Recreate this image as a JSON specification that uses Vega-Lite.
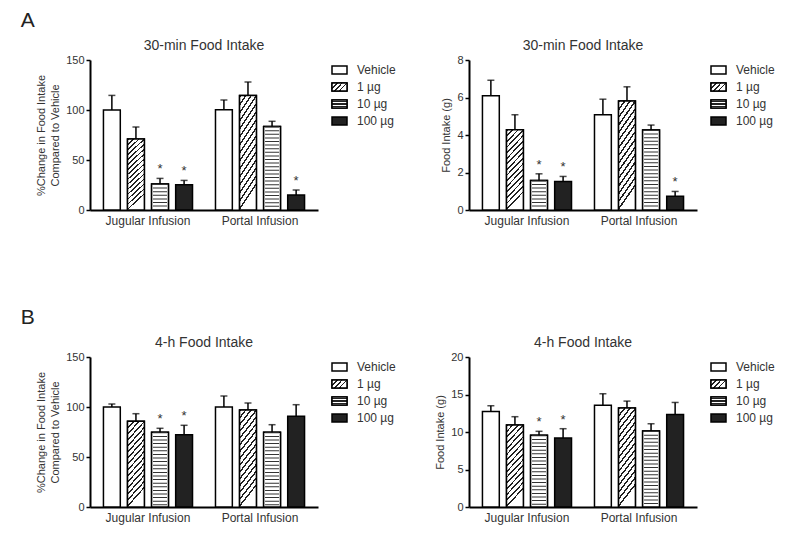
{
  "$schema": "https://vega.github.io/schema/vega-lite/v6.json",
  "padding": {"left": 20, "top": 10, "right": 5, "bottom": 5},
  "datasets": {
    "doses": [{"dose": "Vehicle"}, {"dose": "1 µg"}, {"dose": "10 µg"}, {"dose": "100 µg"}],
    "pct30": [
      {"route": "Jugular Infusion", "dose": "Vehicle", "mean": 100, "hi": 114.6, "sig": ""},
      {"route": "Jugular Infusion", "dose": "1 µg", "mean": 71, "hi": 83, "sig": ""},
      {"route": "Jugular Infusion", "dose": "10 µg", "mean": 26, "hi": 31.6, "sig": "*"},
      {"route": "Jugular Infusion", "dose": "100 µg", "mean": 25.2, "hi": 29.6, "sig": "*"},
      {"route": "Portal Infusion", "dose": "Vehicle", "mean": 100.3, "hi": 110, "sig": ""},
      {"route": "Portal Infusion", "dose": "1 µg", "mean": 114.6, "hi": 128, "sig": ""},
      {"route": "Portal Infusion", "dose": "10 µg", "mean": 83.4, "hi": 88.7, "sig": ""},
      {"route": "Portal Infusion", "dose": "100 µg", "mean": 15, "hi": 20, "sig": "*"}
    ],
    "g30": [
      {"route": "Jugular Infusion", "dose": "Vehicle", "mean": 6.09, "hi": 6.92, "sig": ""},
      {"route": "Jugular Infusion", "dose": "1 µg", "mean": 4.28, "hi": 5.08, "sig": ""},
      {"route": "Jugular Infusion", "dose": "10 µg", "mean": 1.58, "hi": 1.93, "sig": "*"},
      {"route": "Jugular Infusion", "dose": "100 µg", "mean": 1.52, "hi": 1.79, "sig": "*"},
      {"route": "Portal Infusion", "dose": "Vehicle", "mean": 5.08, "hi": 5.91, "sig": ""},
      {"route": "Portal Infusion", "dose": "1 µg", "mean": 5.82, "hi": 6.57, "sig": ""},
      {"route": "Portal Infusion", "dose": "10 µg", "mean": 4.27, "hi": 4.53, "sig": ""},
      {"route": "Portal Infusion", "dose": "100 µg", "mean": 0.74, "hi": 0.99, "sig": "*"}
    ],
    "pct4": [
      {"route": "Jugular Infusion", "dose": "Vehicle", "mean": 100, "hi": 103, "sig": ""},
      {"route": "Jugular Infusion", "dose": "1 µg", "mean": 85.7, "hi": 93.3, "sig": ""},
      {"route": "Jugular Infusion", "dose": "10 µg", "mean": 74.7, "hi": 78.7, "sig": "*"},
      {"route": "Jugular Infusion", "dose": "100 µg", "mean": 72.3, "hi": 81.7, "sig": "*"},
      {"route": "Portal Infusion", "dose": "Vehicle", "mean": 100, "hi": 111, "sig": ""},
      {"route": "Portal Infusion", "dose": "1 µg", "mean": 97, "hi": 104, "sig": ""},
      {"route": "Portal Infusion", "dose": "10 µg", "mean": 74.7, "hi": 82.3, "sig": ""},
      {"route": "Portal Infusion", "dose": "100 µg", "mean": 90.7, "hi": 102.3, "sig": ""}
    ],
    "g4": [
      {"route": "Jugular Infusion", "dose": "Vehicle", "mean": 12.74, "hi": 13.5, "sig": ""},
      {"route": "Jugular Infusion", "dose": "1 µg", "mean": 10.93, "hi": 12.04, "sig": ""},
      {"route": "Jugular Infusion", "dose": "10 µg", "mean": 9.56, "hi": 10.09, "sig": "*"},
      {"route": "Jugular Infusion", "dose": "100 µg", "mean": 9.2, "hi": 10.44, "sig": "*"},
      {"route": "Portal Infusion", "dose": "Vehicle", "mean": 13.58, "hi": 15.1, "sig": ""},
      {"route": "Portal Infusion", "dose": "1 µg", "mean": 13.19, "hi": 14.12, "sig": ""},
      {"route": "Portal Infusion", "dose": "10 µg", "mean": 10.13, "hi": 11.1, "sig": ""},
      {"route": "Portal Infusion", "dose": "100 µg", "mean": 12.35, "hi": 13.94, "sig": ""}
    ]
  },
  "vconcat": [
    {
      "title": {"text": "A", "anchor": "start", "frame": "bounds", "fontSize": 21, "color": "#222", "dx": -15, "offset": 8},
      "bounds": "flush",
      "spacing": 14,
      "hconcat": [
        {
          "title": {"text": "30-min Food Intake", "frame": "group", "anchor": "middle"},
          "width": 228, "height": 150,
          "data": {"name": "pct30"},
          "encoding": {
            "x": {"field": "route", "type": "nominal", "sort": ["Jugular Infusion", "Portal Infusion"], "scale": {"paddingInner": 0.205, "paddingOuter": 0.12}, "axis": {"title": null}},
            "xOffset": {"field": "dose", "type": "nominal", "sort": ["Vehicle", "1 µg", "10 µg", "100 µg"], "scale": {"domain": ["Vehicle", "1 µg", "10 µg", "100 µg"], "paddingInner": 0.3, "paddingOuter": 0}},
            "y": {"field": "mean", "type": "quantitative", "scale": {"domain": [0, 150], "nice": false}, "axis": {"values": [0, 50, 100, 150], "title": ["%Change in Food Intake", "Compared to Vehicle"]}}
          },
          "layer": [
            {"mark": {"type": "bar", "stroke": "black", "strokeWidth": 1.5},
             "encoding": {"fill": {"field": "dose", "type": "nominal", "scale": {"domain": ["Vehicle", "1 µg", "10 µg", "100 µg"], "range": ["white", "white", "white", "#222"]}, "legend": null}}},
            {"transform": [{"filter": "datum.dose === '1 µg'"}],
             "mark": {"type": "bar", "stroke": "black", "strokeWidth": 1.5,
               "fill": {"gradient": "linear", "x1": 0, "y1": 0, "x2": 0.22, "y2": 1, "stops": [{"offset": 0, "color": "#222"}, {"offset": 0.022, "color": "#222"}, {"offset": 0.022, "color": "white"}, {"offset": 0.0667, "color": "white"}, {"offset": 0.0667, "color": "#222"}, {"offset": 0.0887, "color": "#222"}, {"offset": 0.0887, "color": "white"}, {"offset": 0.1333, "color": "white"}, {"offset": 0.1333, "color": "#222"}, {"offset": 0.1553, "color": "#222"}, {"offset": 0.1553, "color": "white"}, {"offset": 0.2, "color": "white"}, {"offset": 0.2, "color": "#222"}, {"offset": 0.222, "color": "#222"}, {"offset": 0.222, "color": "white"}, {"offset": 0.2667, "color": "white"}, {"offset": 0.2667, "color": "#222"}, {"offset": 0.2887, "color": "#222"}, {"offset": 0.2887, "color": "white"}, {"offset": 0.3333, "color": "white"}, {"offset": 0.3333, "color": "#222"}, {"offset": 0.3553, "color": "#222"}, {"offset": 0.3553, "color": "white"}, {"offset": 0.4, "color": "white"}, {"offset": 0.4, "color": "#222"}, {"offset": 0.422, "color": "#222"}, {"offset": 0.422, "color": "white"}, {"offset": 0.4667, "color": "white"}, {"offset": 0.4667, "color": "#222"}, {"offset": 0.4887, "color": "#222"}, {"offset": 0.4887, "color": "white"}, {"offset": 0.5333, "color": "white"}, {"offset": 0.5333, "color": "#222"}, {"offset": 0.5553, "color": "#222"}, {"offset": 0.5553, "color": "white"}, {"offset": 0.6, "color": "white"}, {"offset": 0.6, "color": "#222"}, {"offset": 0.622, "color": "#222"}, {"offset": 0.622, "color": "white"}, {"offset": 0.6667, "color": "white"}, {"offset": 0.6667, "color": "#222"}, {"offset": 0.6887, "color": "#222"}, {"offset": 0.6887, "color": "white"}, {"offset": 0.7333, "color": "white"}, {"offset": 0.7333, "color": "#222"}, {"offset": 0.7553, "color": "#222"}, {"offset": 0.7553, "color": "white"}, {"offset": 0.8, "color": "white"}, {"offset": 0.8, "color": "#222"}, {"offset": 0.822, "color": "#222"}, {"offset": 0.822, "color": "white"}, {"offset": 0.8667, "color": "white"}, {"offset": 0.8667, "color": "#222"}, {"offset": 0.8887, "color": "#222"}, {"offset": 0.8887, "color": "white"}, {"offset": 0.9333, "color": "white"}, {"offset": 0.9333, "color": "#222"}, {"offset": 0.9553, "color": "#222"}, {"offset": 0.9553, "color": "white"}, {"offset": 1, "color": "white"}]}},
             "encoding": {}},
            {"transform": [{"filter": "datum.dose === '10 µg'"}],
             "mark": {"type": "bar", "stroke": "black", "strokeWidth": 1.5, "fill": "white"},
             "encoding": {}},
            {"transform": [{"filter": "datum.dose === '10 µg'"}],
             "mark": {"type": "rule", "color": "#333", "strokeWidth": 14, "strokeDash": [1, 2.6]},
             "encoding": {"y2": {"datum": 0}}},
            {"mark": {"type": "rule", "color": "black", "strokeWidth": 1.5},
             "encoding": {"y2": {"field": "hi"}}},
            {"mark": {"type": "tick", "orient": "horizontal", "color": "black", "size": 7, "thickness": 1.5},
             "encoding": {"y": {"field": "hi", "type": "quantitative", "axis": {"values": [0, 50, 100, 150], "title": ["%Change in Food Intake", "Compared to Vehicle"]}}}},
            {"transform": [{"filter": "datum.sig === '*'"}],
             "mark": {"type": "text", "fontSize": 13, "fill": "#333", "color": "#333", "baseline": "alphabetic", "dy": -5},
             "encoding": {"y": {"field": "hi", "type": "quantitative", "axis": {"values": [0, 50, 100, 150], "title": ["%Change in Food Intake", "Compared to Vehicle"]}}, "text": {"field": "sig"}}}
          ]
        },
        {
          "width": 123, "height": 71,
          "data": {"name": "doses"},
          "encoding": {
            "y": {"field": "dose", "type": "nominal", "sort": ["Vehicle", "1 µg", "10 µg", "100 µg"], "scale": {"paddingInner": 0.53, "paddingOuter": 0.353}, "axis": null},
            "x": {"datum": 0, "type": "quantitative", "scale": {"domain": [0, 123], "nice": false, "zero": false}, "axis": null}
          },
          "layer": [
            {"mark": {"type": "bar", "stroke": "black", "strokeWidth": 1.5},
             "encoding": {"x2": {"datum": 15}, "fill": {"field": "dose", "type": "nominal", "scale": {"domain": ["Vehicle", "1 µg", "10 µg", "100 µg"], "range": ["white", "white", "white", "#222"]}, "legend": null}}},
            {"transform": [{"filter": "datum.dose === '1 µg'"}],
             "mark": {"type": "bar", "stroke": "black", "strokeWidth": 1.5, "fill": {"gradient": "linear", "x1": 0, "y1": 0, "x2": 1, "y2": 0.5, "stops": [{"offset": 0, "color": "#222"}, {"offset": 0.08, "color": "#222"}, {"offset": 0.08, "color": "white"}, {"offset": 0.25, "color": "white"}, {"offset": 0.25, "color": "#222"}, {"offset": 0.33, "color": "#222"}, {"offset": 0.33, "color": "white"}, {"offset": 0.5, "color": "white"}, {"offset": 0.5, "color": "#222"}, {"offset": 0.58, "color": "#222"}, {"offset": 0.58, "color": "white"}, {"offset": 0.75, "color": "white"}, {"offset": 0.75, "color": "#222"}, {"offset": 0.83, "color": "#222"}, {"offset": 0.83, "color": "white"}, {"offset": 1, "color": "white"}]}},
             "encoding": {"x2": {"datum": 15}}},
            {"transform": [{"filter": "datum.dose === '10 µg'"}],
             "mark": {"type": "bar", "stroke": "black", "strokeWidth": 1.5, "fill": {"gradient": "linear", "x1": 0, "y1": 0, "x2": 0, "y2": 1, "stops": [{"offset": 0, "color": "white"}, {"offset": 0.16, "color": "white"}, {"offset": 0.16, "color": "#222"}, {"offset": 0.3, "color": "#222"}, {"offset": 0.3, "color": "white"}, {"offset": 0.43, "color": "white"}, {"offset": 0.43, "color": "#222"}, {"offset": 0.57, "color": "#222"}, {"offset": 0.57, "color": "white"}, {"offset": 0.7, "color": "white"}, {"offset": 0.7, "color": "#222"}, {"offset": 0.84, "color": "#222"}, {"offset": 0.84, "color": "white"}, {"offset": 1, "color": "white"}]}},
             "encoding": {"x2": {"datum": 15}}},
            {"mark": {"type": "text", "align": "left", "baseline": "middle", "fontSize": 12, "color": "#333", "dx": 10},
             "encoding": {"x": {"datum": 15, "type": "quantitative"}, "text": {"field": "dose"}}}
          ]
        },
        {
          "title": {"text": "30-min Food Intake", "frame": "group", "anchor": "middle"},
          "width": 228, "height": 150,
          "data": {"name": "g30"},
          "encoding": {
            "x": {"field": "route", "type": "nominal", "sort": ["Jugular Infusion", "Portal Infusion"], "scale": {"paddingInner": 0.205, "paddingOuter": 0.12}, "axis": {"title": null}},
            "xOffset": {"field": "dose", "type": "nominal", "sort": ["Vehicle", "1 µg", "10 µg", "100 µg"], "scale": {"domain": ["Vehicle", "1 µg", "10 µg", "100 µg"], "paddingInner": 0.3, "paddingOuter": 0}},
            "y": {"field": "mean", "type": "quantitative", "scale": {"domain": [0, 8], "nice": false}, "axis": {"values": [0, 2, 4, 6, 8], "title": "Food Intake (g)"}}
          },
          "layer": [
            {"mark": {"type": "bar", "stroke": "black", "strokeWidth": 1.5},
             "encoding": {"fill": {"field": "dose", "type": "nominal", "scale": {"domain": ["Vehicle", "1 µg", "10 µg", "100 µg"], "range": ["white", "white", "white", "#222"]}, "legend": null}}},
            {"transform": [{"filter": "datum.dose === '1 µg'"}],
             "mark": {"type": "bar", "stroke": "black", "strokeWidth": 1.5,
               "fill": {"gradient": "linear", "x1": 0, "y1": 0, "x2": 0.22, "y2": 1, "stops": [{"offset": 0, "color": "#222"}, {"offset": 0.022, "color": "#222"}, {"offset": 0.022, "color": "white"}, {"offset": 0.0667, "color": "white"}, {"offset": 0.0667, "color": "#222"}, {"offset": 0.0887, "color": "#222"}, {"offset": 0.0887, "color": "white"}, {"offset": 0.1333, "color": "white"}, {"offset": 0.1333, "color": "#222"}, {"offset": 0.1553, "color": "#222"}, {"offset": 0.1553, "color": "white"}, {"offset": 0.2, "color": "white"}, {"offset": 0.2, "color": "#222"}, {"offset": 0.222, "color": "#222"}, {"offset": 0.222, "color": "white"}, {"offset": 0.2667, "color": "white"}, {"offset": 0.2667, "color": "#222"}, {"offset": 0.2887, "color": "#222"}, {"offset": 0.2887, "color": "white"}, {"offset": 0.3333, "color": "white"}, {"offset": 0.3333, "color": "#222"}, {"offset": 0.3553, "color": "#222"}, {"offset": 0.3553, "color": "white"}, {"offset": 0.4, "color": "white"}, {"offset": 0.4, "color": "#222"}, {"offset": 0.422, "color": "#222"}, {"offset": 0.422, "color": "white"}, {"offset": 0.4667, "color": "white"}, {"offset": 0.4667, "color": "#222"}, {"offset": 0.4887, "color": "#222"}, {"offset": 0.4887, "color": "white"}, {"offset": 0.5333, "color": "white"}, {"offset": 0.5333, "color": "#222"}, {"offset": 0.5553, "color": "#222"}, {"offset": 0.5553, "color": "white"}, {"offset": 0.6, "color": "white"}, {"offset": 0.6, "color": "#222"}, {"offset": 0.622, "color": "#222"}, {"offset": 0.622, "color": "white"}, {"offset": 0.6667, "color": "white"}, {"offset": 0.6667, "color": "#222"}, {"offset": 0.6887, "color": "#222"}, {"offset": 0.6887, "color": "white"}, {"offset": 0.7333, "color": "white"}, {"offset": 0.7333, "color": "#222"}, {"offset": 0.7553, "color": "#222"}, {"offset": 0.7553, "color": "white"}, {"offset": 0.8, "color": "white"}, {"offset": 0.8, "color": "#222"}, {"offset": 0.822, "color": "#222"}, {"offset": 0.822, "color": "white"}, {"offset": 0.8667, "color": "white"}, {"offset": 0.8667, "color": "#222"}, {"offset": 0.8887, "color": "#222"}, {"offset": 0.8887, "color": "white"}, {"offset": 0.9333, "color": "white"}, {"offset": 0.9333, "color": "#222"}, {"offset": 0.9553, "color": "#222"}, {"offset": 0.9553, "color": "white"}, {"offset": 1, "color": "white"}]}},
             "encoding": {}},
            {"transform": [{"filter": "datum.dose === '10 µg'"}],
             "mark": {"type": "bar", "stroke": "black", "strokeWidth": 1.5, "fill": "white"},
             "encoding": {}},
            {"transform": [{"filter": "datum.dose === '10 µg'"}],
             "mark": {"type": "rule", "color": "#333", "strokeWidth": 14, "strokeDash": [1, 2.6]},
             "encoding": {"y2": {"datum": 0}}},
            {"mark": {"type": "rule", "color": "black", "strokeWidth": 1.5},
             "encoding": {"y2": {"field": "hi"}}},
            {"mark": {"type": "tick", "orient": "horizontal", "color": "black", "size": 7, "thickness": 1.5},
             "encoding": {"y": {"field": "hi", "type": "quantitative", "axis": {"values": [0, 2, 4, 6, 8], "title": "Food Intake (g)"}}}},
            {"transform": [{"filter": "datum.sig === '*'"}],
             "mark": {"type": "text", "fontSize": 13, "fill": "#333", "color": "#333", "baseline": "alphabetic", "dy": -5},
             "encoding": {"y": {"field": "hi", "type": "quantitative", "axis": {"values": [0, 2, 4, 6, 8], "title": "Food Intake (g)"}}, "text": {"field": "sig"}}}
          ]
        },
        {
          "width": 75, "height": 71,
          "data": {"name": "doses"},
          "encoding": {
            "y": {"field": "dose", "type": "nominal", "sort": ["Vehicle", "1 µg", "10 µg", "100 µg"], "scale": {"paddingInner": 0.53, "paddingOuter": 0.353}, "axis": null},
            "x": {"datum": 0, "type": "quantitative", "scale": {"domain": [0, 75], "nice": false, "zero": false}, "axis": null}
          },
          "layer": [
            {"mark": {"type": "bar", "stroke": "black", "strokeWidth": 1.5},
             "encoding": {"x2": {"datum": 15}, "fill": {"field": "dose", "type": "nominal", "scale": {"domain": ["Vehicle", "1 µg", "10 µg", "100 µg"], "range": ["white", "white", "white", "#222"]}, "legend": null}}},
            {"transform": [{"filter": "datum.dose === '1 µg'"}],
             "mark": {"type": "bar", "stroke": "black", "strokeWidth": 1.5, "fill": {"gradient": "linear", "x1": 0, "y1": 0, "x2": 1, "y2": 0.5, "stops": [{"offset": 0, "color": "#222"}, {"offset": 0.08, "color": "#222"}, {"offset": 0.08, "color": "white"}, {"offset": 0.25, "color": "white"}, {"offset": 0.25, "color": "#222"}, {"offset": 0.33, "color": "#222"}, {"offset": 0.33, "color": "white"}, {"offset": 0.5, "color": "white"}, {"offset": 0.5, "color": "#222"}, {"offset": 0.58, "color": "#222"}, {"offset": 0.58, "color": "white"}, {"offset": 0.75, "color": "white"}, {"offset": 0.75, "color": "#222"}, {"offset": 0.83, "color": "#222"}, {"offset": 0.83, "color": "white"}, {"offset": 1, "color": "white"}]}},
             "encoding": {"x2": {"datum": 15}}},
            {"transform": [{"filter": "datum.dose === '10 µg'"}],
             "mark": {"type": "bar", "stroke": "black", "strokeWidth": 1.5, "fill": {"gradient": "linear", "x1": 0, "y1": 0, "x2": 0, "y2": 1, "stops": [{"offset": 0, "color": "white"}, {"offset": 0.16, "color": "white"}, {"offset": 0.16, "color": "#222"}, {"offset": 0.3, "color": "#222"}, {"offset": 0.3, "color": "white"}, {"offset": 0.43, "color": "white"}, {"offset": 0.43, "color": "#222"}, {"offset": 0.57, "color": "#222"}, {"offset": 0.57, "color": "white"}, {"offset": 0.7, "color": "white"}, {"offset": 0.7, "color": "#222"}, {"offset": 0.84, "color": "#222"}, {"offset": 0.84, "color": "white"}, {"offset": 1, "color": "white"}]}},
             "encoding": {"x2": {"datum": 15}}},
            {"mark": {"type": "text", "align": "left", "baseline": "middle", "fontSize": 12, "color": "#333", "dx": 10},
             "encoding": {"x": {"datum": 15, "type": "quantitative"}, "text": {"field": "dose"}}}
          ]
        }
      ]
    },
    {
      "title": {"text": "B", "anchor": "start", "frame": "bounds", "fontSize": 21, "color": "#222", "dx": -15, "offset": 8},
      "bounds": "flush",
      "spacing": 14,
      "hconcat": [
        {
          "title": {"text": "4-h Food Intake", "frame": "group", "anchor": "middle"},
          "width": 228, "height": 150,
          "data": {"name": "pct4"},
          "encoding": {
            "x": {"field": "route", "type": "nominal", "sort": ["Jugular Infusion", "Portal Infusion"], "scale": {"paddingInner": 0.205, "paddingOuter": 0.12}, "axis": {"title": null}},
            "xOffset": {"field": "dose", "type": "nominal", "sort": ["Vehicle", "1 µg", "10 µg", "100 µg"], "scale": {"domain": ["Vehicle", "1 µg", "10 µg", "100 µg"], "paddingInner": 0.3, "paddingOuter": 0}},
            "y": {"field": "mean", "type": "quantitative", "scale": {"domain": [0, 150], "nice": false}, "axis": {"values": [0, 50, 100, 150], "title": ["%Change in Food Intake", "Compared to Vehicle"]}}
          },
          "layer": [
            {"mark": {"type": "bar", "stroke": "black", "strokeWidth": 1.5},
             "encoding": {"fill": {"field": "dose", "type": "nominal", "scale": {"domain": ["Vehicle", "1 µg", "10 µg", "100 µg"], "range": ["white", "white", "white", "#222"]}, "legend": null}}},
            {"transform": [{"filter": "datum.dose === '1 µg'"}],
             "mark": {"type": "bar", "stroke": "black", "strokeWidth": 1.5,
               "fill": {"gradient": "linear", "x1": 0, "y1": 0, "x2": 0.22, "y2": 1, "stops": [{"offset": 0, "color": "#222"}, {"offset": 0.022, "color": "#222"}, {"offset": 0.022, "color": "white"}, {"offset": 0.0667, "color": "white"}, {"offset": 0.0667, "color": "#222"}, {"offset": 0.0887, "color": "#222"}, {"offset": 0.0887, "color": "white"}, {"offset": 0.1333, "color": "white"}, {"offset": 0.1333, "color": "#222"}, {"offset": 0.1553, "color": "#222"}, {"offset": 0.1553, "color": "white"}, {"offset": 0.2, "color": "white"}, {"offset": 0.2, "color": "#222"}, {"offset": 0.222, "color": "#222"}, {"offset": 0.222, "color": "white"}, {"offset": 0.2667, "color": "white"}, {"offset": 0.2667, "color": "#222"}, {"offset": 0.2887, "color": "#222"}, {"offset": 0.2887, "color": "white"}, {"offset": 0.3333, "color": "white"}, {"offset": 0.3333, "color": "#222"}, {"offset": 0.3553, "color": "#222"}, {"offset": 0.3553, "color": "white"}, {"offset": 0.4, "color": "white"}, {"offset": 0.4, "color": "#222"}, {"offset": 0.422, "color": "#222"}, {"offset": 0.422, "color": "white"}, {"offset": 0.4667, "color": "white"}, {"offset": 0.4667, "color": "#222"}, {"offset": 0.4887, "color": "#222"}, {"offset": 0.4887, "color": "white"}, {"offset": 0.5333, "color": "white"}, {"offset": 0.5333, "color": "#222"}, {"offset": 0.5553, "color": "#222"}, {"offset": 0.5553, "color": "white"}, {"offset": 0.6, "color": "white"}, {"offset": 0.6, "color": "#222"}, {"offset": 0.622, "color": "#222"}, {"offset": 0.622, "color": "white"}, {"offset": 0.6667, "color": "white"}, {"offset": 0.6667, "color": "#222"}, {"offset": 0.6887, "color": "#222"}, {"offset": 0.6887, "color": "white"}, {"offset": 0.7333, "color": "white"}, {"offset": 0.7333, "color": "#222"}, {"offset": 0.7553, "color": "#222"}, {"offset": 0.7553, "color": "white"}, {"offset": 0.8, "color": "white"}, {"offset": 0.8, "color": "#222"}, {"offset": 0.822, "color": "#222"}, {"offset": 0.822, "color": "white"}, {"offset": 0.8667, "color": "white"}, {"offset": 0.8667, "color": "#222"}, {"offset": 0.8887, "color": "#222"}, {"offset": 0.8887, "color": "white"}, {"offset": 0.9333, "color": "white"}, {"offset": 0.9333, "color": "#222"}, {"offset": 0.9553, "color": "#222"}, {"offset": 0.9553, "color": "white"}, {"offset": 1, "color": "white"}]}},
             "encoding": {}},
            {"transform": [{"filter": "datum.dose === '10 µg'"}],
             "mark": {"type": "bar", "stroke": "black", "strokeWidth": 1.5, "fill": "white"},
             "encoding": {}},
            {"transform": [{"filter": "datum.dose === '10 µg'"}],
             "mark": {"type": "rule", "color": "#333", "strokeWidth": 14, "strokeDash": [1, 2.6]},
             "encoding": {"y2": {"datum": 0}}},
            {"mark": {"type": "rule", "color": "black", "strokeWidth": 1.5},
             "encoding": {"y2": {"field": "hi"}}},
            {"mark": {"type": "tick", "orient": "horizontal", "color": "black", "size": 7, "thickness": 1.5},
             "encoding": {"y": {"field": "hi", "type": "quantitative", "axis": {"values": [0, 50, 100, 150], "title": ["%Change in Food Intake", "Compared to Vehicle"]}}}},
            {"transform": [{"filter": "datum.sig === '*'"}],
             "mark": {"type": "text", "fontSize": 13, "fill": "#333", "color": "#333", "baseline": "alphabetic", "dy": -5},
             "encoding": {"y": {"field": "hi", "type": "quantitative", "axis": {"values": [0, 50, 100, 150], "title": ["%Change in Food Intake", "Compared to Vehicle"]}}, "text": {"field": "sig"}}}
          ]
        },
        {
          "width": 123, "height": 71,
          "data": {"name": "doses"},
          "encoding": {
            "y": {"field": "dose", "type": "nominal", "sort": ["Vehicle", "1 µg", "10 µg", "100 µg"], "scale": {"paddingInner": 0.53, "paddingOuter": 0.353}, "axis": null},
            "x": {"datum": 0, "type": "quantitative", "scale": {"domain": [0, 123], "nice": false, "zero": false}, "axis": null}
          },
          "layer": [
            {"mark": {"type": "bar", "stroke": "black", "strokeWidth": 1.5},
             "encoding": {"x2": {"datum": 15}, "fill": {"field": "dose", "type": "nominal", "scale": {"domain": ["Vehicle", "1 µg", "10 µg", "100 µg"], "range": ["white", "white", "white", "#222"]}, "legend": null}}},
            {"transform": [{"filter": "datum.dose === '1 µg'"}],
             "mark": {"type": "bar", "stroke": "black", "strokeWidth": 1.5, "fill": {"gradient": "linear", "x1": 0, "y1": 0, "x2": 1, "y2": 0.5, "stops": [{"offset": 0, "color": "#222"}, {"offset": 0.08, "color": "#222"}, {"offset": 0.08, "color": "white"}, {"offset": 0.25, "color": "white"}, {"offset": 0.25, "color": "#222"}, {"offset": 0.33, "color": "#222"}, {"offset": 0.33, "color": "white"}, {"offset": 0.5, "color": "white"}, {"offset": 0.5, "color": "#222"}, {"offset": 0.58, "color": "#222"}, {"offset": 0.58, "color": "white"}, {"offset": 0.75, "color": "white"}, {"offset": 0.75, "color": "#222"}, {"offset": 0.83, "color": "#222"}, {"offset": 0.83, "color": "white"}, {"offset": 1, "color": "white"}]}},
             "encoding": {"x2": {"datum": 15}}},
            {"transform": [{"filter": "datum.dose === '10 µg'"}],
             "mark": {"type": "bar", "stroke": "black", "strokeWidth": 1.5, "fill": {"gradient": "linear", "x1": 0, "y1": 0, "x2": 0, "y2": 1, "stops": [{"offset": 0, "color": "white"}, {"offset": 0.16, "color": "white"}, {"offset": 0.16, "color": "#222"}, {"offset": 0.3, "color": "#222"}, {"offset": 0.3, "color": "white"}, {"offset": 0.43, "color": "white"}, {"offset": 0.43, "color": "#222"}, {"offset": 0.57, "color": "#222"}, {"offset": 0.57, "color": "white"}, {"offset": 0.7, "color": "white"}, {"offset": 0.7, "color": "#222"}, {"offset": 0.84, "color": "#222"}, {"offset": 0.84, "color": "white"}, {"offset": 1, "color": "white"}]}},
             "encoding": {"x2": {"datum": 15}}},
            {"mark": {"type": "text", "align": "left", "baseline": "middle", "fontSize": 12, "color": "#333", "dx": 10},
             "encoding": {"x": {"datum": 15, "type": "quantitative"}, "text": {"field": "dose"}}}
          ]
        },
        {
          "title": {"text": "4-h Food Intake", "frame": "group", "anchor": "middle"},
          "width": 228, "height": 150,
          "data": {"name": "g4"},
          "encoding": {
            "x": {"field": "route", "type": "nominal", "sort": ["Jugular Infusion", "Portal Infusion"], "scale": {"paddingInner": 0.205, "paddingOuter": 0.12}, "axis": {"title": null}},
            "xOffset": {"field": "dose", "type": "nominal", "sort": ["Vehicle", "1 µg", "10 µg", "100 µg"], "scale": {"domain": ["Vehicle", "1 µg", "10 µg", "100 µg"], "paddingInner": 0.3, "paddingOuter": 0}},
            "y": {"field": "mean", "type": "quantitative", "scale": {"domain": [0, 20], "nice": false}, "axis": {"values": [0, 5, 10, 15, 20], "title": "Food Intake (g)"}}
          },
          "layer": [
            {"mark": {"type": "bar", "stroke": "black", "strokeWidth": 1.5},
             "encoding": {"fill": {"field": "dose", "type": "nominal", "scale": {"domain": ["Vehicle", "1 µg", "10 µg", "100 µg"], "range": ["white", "white", "white", "#222"]}, "legend": null}}},
            {"transform": [{"filter": "datum.dose === '1 µg'"}],
             "mark": {"type": "bar", "stroke": "black", "strokeWidth": 1.5,
               "fill": {"gradient": "linear", "x1": 0, "y1": 0, "x2": 0.22, "y2": 1, "stops": [{"offset": 0, "color": "#222"}, {"offset": 0.022, "color": "#222"}, {"offset": 0.022, "color": "white"}, {"offset": 0.0667, "color": "white"}, {"offset": 0.0667, "color": "#222"}, {"offset": 0.0887, "color": "#222"}, {"offset": 0.0887, "color": "white"}, {"offset": 0.1333, "color": "white"}, {"offset": 0.1333, "color": "#222"}, {"offset": 0.1553, "color": "#222"}, {"offset": 0.1553, "color": "white"}, {"offset": 0.2, "color": "white"}, {"offset": 0.2, "color": "#222"}, {"offset": 0.222, "color": "#222"}, {"offset": 0.222, "color": "white"}, {"offset": 0.2667, "color": "white"}, {"offset": 0.2667, "color": "#222"}, {"offset": 0.2887, "color": "#222"}, {"offset": 0.2887, "color": "white"}, {"offset": 0.3333, "color": "white"}, {"offset": 0.3333, "color": "#222"}, {"offset": 0.3553, "color": "#222"}, {"offset": 0.3553, "color": "white"}, {"offset": 0.4, "color": "white"}, {"offset": 0.4, "color": "#222"}, {"offset": 0.422, "color": "#222"}, {"offset": 0.422, "color": "white"}, {"offset": 0.4667, "color": "white"}, {"offset": 0.4667, "color": "#222"}, {"offset": 0.4887, "color": "#222"}, {"offset": 0.4887, "color": "white"}, {"offset": 0.5333, "color": "white"}, {"offset": 0.5333, "color": "#222"}, {"offset": 0.5553, "color": "#222"}, {"offset": 0.5553, "color": "white"}, {"offset": 0.6, "color": "white"}, {"offset": 0.6, "color": "#222"}, {"offset": 0.622, "color": "#222"}, {"offset": 0.622, "color": "white"}, {"offset": 0.6667, "color": "white"}, {"offset": 0.6667, "color": "#222"}, {"offset": 0.6887, "color": "#222"}, {"offset": 0.6887, "color": "white"}, {"offset": 0.7333, "color": "white"}, {"offset": 0.7333, "color": "#222"}, {"offset": 0.7553, "color": "#222"}, {"offset": 0.7553, "color": "white"}, {"offset": 0.8, "color": "white"}, {"offset": 0.8, "color": "#222"}, {"offset": 0.822, "color": "#222"}, {"offset": 0.822, "color": "white"}, {"offset": 0.8667, "color": "white"}, {"offset": 0.8667, "color": "#222"}, {"offset": 0.8887, "color": "#222"}, {"offset": 0.8887, "color": "white"}, {"offset": 0.9333, "color": "white"}, {"offset": 0.9333, "color": "#222"}, {"offset": 0.9553, "color": "#222"}, {"offset": 0.9553, "color": "white"}, {"offset": 1, "color": "white"}]}},
             "encoding": {}},
            {"transform": [{"filter": "datum.dose === '10 µg'"}],
             "mark": {"type": "bar", "stroke": "black", "strokeWidth": 1.5, "fill": "white"},
             "encoding": {}},
            {"transform": [{"filter": "datum.dose === '10 µg'"}],
             "mark": {"type": "rule", "color": "#333", "strokeWidth": 14, "strokeDash": [1, 2.6]},
             "encoding": {"y2": {"datum": 0}}},
            {"mark": {"type": "rule", "color": "black", "strokeWidth": 1.5},
             "encoding": {"y2": {"field": "hi"}}},
            {"mark": {"type": "tick", "orient": "horizontal", "color": "black", "size": 7, "thickness": 1.5},
             "encoding": {"y": {"field": "hi", "type": "quantitative", "axis": {"values": [0, 5, 10, 15, 20], "title": "Food Intake (g)"}}}},
            {"transform": [{"filter": "datum.sig === '*'"}],
             "mark": {"type": "text", "fontSize": 13, "fill": "#333", "color": "#333", "baseline": "alphabetic", "dy": -5},
             "encoding": {"y": {"field": "hi", "type": "quantitative", "axis": {"values": [0, 5, 10, 15, 20], "title": "Food Intake (g)"}}, "text": {"field": "sig"}}}
          ]
        },
        {
          "width": 75, "height": 71,
          "data": {"name": "doses"},
          "encoding": {
            "y": {"field": "dose", "type": "nominal", "sort": ["Vehicle", "1 µg", "10 µg", "100 µg"], "scale": {"paddingInner": 0.53, "paddingOuter": 0.353}, "axis": null},
            "x": {"datum": 0, "type": "quantitative", "scale": {"domain": [0, 75], "nice": false, "zero": false}, "axis": null}
          },
          "layer": [
            {"mark": {"type": "bar", "stroke": "black", "strokeWidth": 1.5},
             "encoding": {"x2": {"datum": 15}, "fill": {"field": "dose", "type": "nominal", "scale": {"domain": ["Vehicle", "1 µg", "10 µg", "100 µg"], "range": ["white", "white", "white", "#222"]}, "legend": null}}},
            {"transform": [{"filter": "datum.dose === '1 µg'"}],
             "mark": {"type": "bar", "stroke": "black", "strokeWidth": 1.5, "fill": {"gradient": "linear", "x1": 0, "y1": 0, "x2": 1, "y2": 0.5, "stops": [{"offset": 0, "color": "#222"}, {"offset": 0.08, "color": "#222"}, {"offset": 0.08, "color": "white"}, {"offset": 0.25, "color": "white"}, {"offset": 0.25, "color": "#222"}, {"offset": 0.33, "color": "#222"}, {"offset": 0.33, "color": "white"}, {"offset": 0.5, "color": "white"}, {"offset": 0.5, "color": "#222"}, {"offset": 0.58, "color": "#222"}, {"offset": 0.58, "color": "white"}, {"offset": 0.75, "color": "white"}, {"offset": 0.75, "color": "#222"}, {"offset": 0.83, "color": "#222"}, {"offset": 0.83, "color": "white"}, {"offset": 1, "color": "white"}]}},
             "encoding": {"x2": {"datum": 15}}},
            {"transform": [{"filter": "datum.dose === '10 µg'"}],
             "mark": {"type": "bar", "stroke": "black", "strokeWidth": 1.5, "fill": {"gradient": "linear", "x1": 0, "y1": 0, "x2": 0, "y2": 1, "stops": [{"offset": 0, "color": "white"}, {"offset": 0.16, "color": "white"}, {"offset": 0.16, "color": "#222"}, {"offset": 0.3, "color": "#222"}, {"offset": 0.3, "color": "white"}, {"offset": 0.43, "color": "white"}, {"offset": 0.43, "color": "#222"}, {"offset": 0.57, "color": "#222"}, {"offset": 0.57, "color": "white"}, {"offset": 0.7, "color": "white"}, {"offset": 0.7, "color": "#222"}, {"offset": 0.84, "color": "#222"}, {"offset": 0.84, "color": "white"}, {"offset": 1, "color": "white"}]}},
             "encoding": {"x2": {"datum": 15}}},
            {"mark": {"type": "text", "align": "left", "baseline": "middle", "fontSize": 12, "color": "#333", "dx": 10},
             "encoding": {"x": {"datum": 15, "type": "quantitative"}, "text": {"field": "dose"}}}
          ]
        }
      ]
    }
  ],
  "spacing": 81,
  "config": {
    "font": "Liberation Sans",
    "view": {"stroke": null},
    "axis": {"domainColor": "black", "domainWidth": 2, "tickColor": "black", "tickWidth": 1.5, "tickSize": 4, "labelColor": "#333", "labelFontSize": 11, "labelPadding": 2, "grid": false, "titleColor": "#333", "titleFontWeight": "normal", "titleFontSize": 11, "titlePadding": 5, "titleLineHeight": 14},
    "axisX": {"ticks": false, "labelFontSize": 12, "labelPadding": 5, "labelAngle": 0},
    "title": {"fontSize": 14, "fontWeight": "normal", "color": "#333", "offset": 1}
  }
}
